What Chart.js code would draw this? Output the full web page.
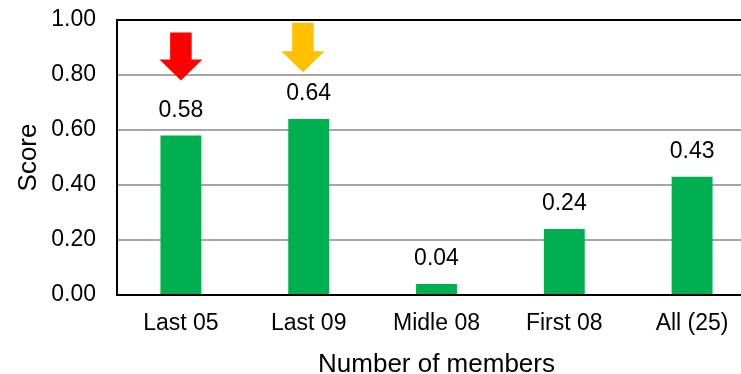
<!DOCTYPE html>
<html>
<head>
<meta charset="utf-8">
<script src="https://cdn.jsdelivr.net/npm/chart.js@4.4.0/dist/chart.umd.min.js"></script>
<style>
  html, body { margin: 0; padding: 0; background: #fff; overflow: hidden; }
  #wrap { width: 760px; height: 374px; }
</style>
</head>
<body>
<div id="wrap"><canvas id="score-chart" width="760" height="374"></canvas></div>
<script>
var categories = ['Last 05', 'Last 09', 'Midle 08', 'First 08', 'All (25)'];
var scores = [0.58, 0.64, 0.04, 0.24, 0.43];
var yTicks = [0, 0.2, 0.4, 0.6, 0.8, 1.0];

// arrows marking the two groups
var arrowCategories = ['Last 05', 'Last 09'];
var arrowTop = [0.955, 0.99];
var arrowTip = [0.78, 0.81];
var arrowShift = [0, -0.045];
var arrowColors = ['#ff0000', '#ffc000'];

var FONT = "'Liberation Sans', Arial, sans-serif";

var ScoreChart = (function(){

    var valueLabels = {
        id: 'valueLabels',
        afterDatasetsDraw: function (chart) {
            var ctx = chart.ctx;
            var meta = chart.getDatasetMeta(0);
            ctx.save();
            ctx.font = '23px ' + FONT;
            ctx.fillStyle = '#000';
            ctx.textAlign = 'center';
            ctx.textBaseline = 'middle';
            meta.data.forEach(function (bar, i) {
                ctx.fillText(scores[i].toFixed(2), bar.x, bar.y - 25);
            });
            ctx.restore();
        }
    };

    var arrows = {
        id: 'arrows',
        afterDatasetsDraw: function (chart) {
            var ctx = chart.ctx;
            var xs = chart.scales.x;
            var ys = chart.scales.y;
            ctx.save();
            arrowCategories.forEach(function (cat, i) {
                var idx = categories.indexOf(cat);
                var cx = xs.getPixelForValue(idx + arrowShift[i]);
                var top = ys.getPixelForValue(arrowTop[i]);
                var tip = ys.getPixelForValue(arrowTip[i]);
                var headH = 21, shaftW = 21.5, headW = 43;
                ctx.fillStyle = arrowColors[i];
                ctx.beginPath();
                ctx.moveTo(cx - shaftW / 2, top);
                ctx.lineTo(cx + shaftW / 2, top);
                ctx.lineTo(cx + shaftW / 2, tip - headH);
                ctx.lineTo(cx + headW / 2, tip - headH);
                ctx.lineTo(cx, tip);
                ctx.lineTo(cx - headW / 2, tip - headH);
                ctx.lineTo(cx - shaftW / 2, tip - headH);
                ctx.closePath();
                ctx.fill();
            });
            ctx.restore();
        }
    };

    var frame = {
        id: 'frame',
        afterDraw: function (chart) {
            var a = chart.chartArea;
            var ctx = chart.ctx;
            ctx.save();
            ctx.strokeStyle = '#000';
            ctx.lineWidth = 2;
            ctx.strokeRect(a.left, a.top, a.right - a.left, a.bottom - a.top);
            ctx.restore();
        }
    };

    var init = function () {
        new Chart('score-chart', {
            type: 'bar',
            data: {
                labels: categories,
                datasets: [{
                    data: scores,
                    backgroundColor: '#00b050',
                    barPercentage: 0.32,
                    categoryPercentage: 1
                }]
            },
            options: {
                responsive: false,
                animation: false,
                layout: { padding: { top: 20, right: 4, left: 0, bottom: 0 } },
                plugins: {
                    legend: { display: false },
                    tooltip: { enabled: false }
                },
                scales: {
                    x: {
                        grid: { display: false, drawTicks: false },
                        border: { display: true, color: '#000', width: 2 },
                        ticks: { color: '#000', font: { family: FONT, size: 23 }, padding: 15 },
                        title: {
                            display: true,
                            text: 'Number of members',
                            color: '#000',
                            font: { family: FONT, size: 26, lineHeight: 1 },
                            padding: { top: 0, bottom: -4 }
                        },
                        afterFit: function (scale) { scale.height = 79; }
                    },
                    y: {
                        min: 0,
                        max: 1,
                        afterBuildTicks: function (scale) {
                            scale.ticks = yTicks.map(function (v) { return { value: v }; });
                        },
                        grid: {
                            drawTicks: false,
                            color: function (c) { return c.tick && c.tick.value === 1 ? '#000' : '#a6a6a6'; },
                            lineWidth: 2
                        },
                        border: { display: true, color: '#000', width: 2 },
                        ticks: {
                            color: '#000',
                            font: { family: FONT, size: 23 },
                            padding: 21,
                            callback: function (v) { return Number(v).toFixed(2); }
                        },
                        title: {
                            display: true,
                            text: 'Score',
                            color: '#000',
                            font: { family: FONT, size: 26, lineHeight: 1 },
                            padding: { top: 16, bottom: 0 }
                        },
                        afterFit: function (scale) {
                            scale.width = 117;
                            scale.paddingTop = 0;
                            scale.paddingBottom = 0;
                        }
                    }
                }
            },
            plugins: [valueLabels, arrows, frame]
        });
    };

    return { init: init };
})();

ScoreChart.init();
</script>
</body>
</html>
